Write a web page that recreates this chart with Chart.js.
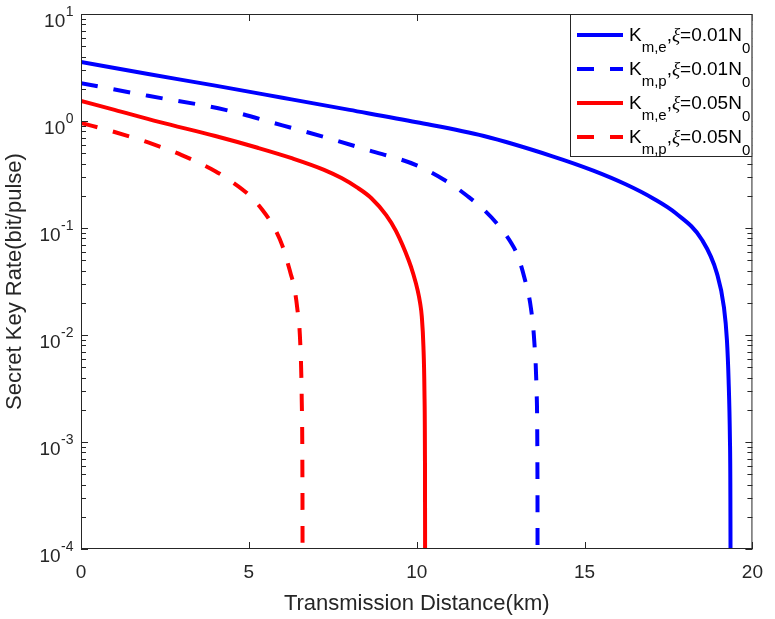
<!DOCTYPE html>
<html>
<head>
    <title>Secret Key Rate vs Transmission Distance</title>
    <script src="https://cdn.jsdelivr.net/npm/chart.js"></script>
    <style>
        body { margin: 0; background: #fff; }
    </style>
</head>
<body>
    <canvas id="keyRateChart" width="775" height="619"></canvas>
    <script>
        // values (distance in km, rate in bit/pulse)
        const distMeXi01 = [0, 2, 4, 6, 8, 10, 12, 14, 15.26, 16.24, 17.03, 17.71, 18.5, 18.94, 19.15, 19.24, 19.29, 19.33, 19.347, 19.349];
        const rateMeXi01 = [3.56, 2.75, 2.14, 1.65, 1.27, 0.973, 0.724, 0.473, 0.344, 0.255, 0.19, 0.138, 0.0773, 0.0379, 0.0183, 0.009, 0.0038, 0.00105, 0.0001, 0.00001];

        const distMpXi01 = [0, 2, 4.3, 6, 7.24, 8.5, 10, 11, 11.5, 12, 12.5, 12.82, 13, 13.2, 13.4, 13.5, 13.57, 13.595, 13.599, 13.6];
        const rateMpXi01 = [2.26, 1.72, 1.27, 0.91, 0.71, 0.54, 0.385, 0.26, 0.20, 0.148, 0.10, 0.072, 0.056, 0.035, 0.018, 0.0089, 0.003, 0.0006, 0.0001, 0.00001];

        const distMeXi05 = [0, 1, 2.32, 4, 5.26, 6.3, 7.24, 7.76, 8.21, 8.65, 9.09, 9.38, 9.76, 9.9, 10.03, 10.1, 10.15, 10.2, 10.23, 10.245, 10.249, 10.2505];
        const rateMeXi05 = [1.54, 1.27, 0.98, 0.724, 0.562, 0.447, 0.35, 0.293, 0.241, 0.19, 0.132, 0.094, 0.05, 0.037, 0.026, 0.02, 0.015, 0.0078, 0.003, 0.00075, 0.00015, 0.00001];

        const distMpXi05 = [0, 1, 2, 3, 4, 4.5, 5, 5.4, 5.76, 6.0, 6.24, 6.35, 6.44, 6.53, 6.575, 6.595, 6.599, 6.6];
        const rateMpXi05 = [0.96, 0.79, 0.63, 0.48, 0.34, 0.27, 0.204, 0.148, 0.1, 0.068, 0.038, 0.028, 0.018, 0.0085, 0.0025, 0.0005, 0.0001, 0.00001];

        const seriesSub = ['m,e', 'm,p', 'm,e', 'm,p'];
        const seriesXi = ['0.01', '0.01', '0.05', '0.05'];
        const xTicks = [0, 5, 10, 15, 20];
        const yDecades = [-4, -3, -2, -1, 0, 1];

        const axisColor = '#262626';
        const font = 'Liberation Sans, Arial, Helvetica, sans-serif';

        function pts(xs, ys) {
            return xs.map((v, i) => ({ x: v, y: ys[i] }));
        }

        function makeSet(i, xs, ys, color, dashed) {
            return {
                label: 'K_' + seriesSub[i] + ',ξ=' + seriesXi[i] + 'N_0',
                data: pts(xs, ys),
                borderColor: color,
                borderWidth: 4,
                borderDash: dashed ? [17, 16] : [],
                pointRadius: 0,
                cubicInterpolationMode: 'monotone',
                fill: false,
                clip: 0
            };
        }

        // draws text pieces [text, fontSpec, dy] starting at x
        function drawRich(ctx, pieces, x, y) {
            for (const [t, f, dy] of pieces) {
                ctx.font = f;
                ctx.fillText(t, x, y + dy);
                x += ctx.measureText(t).width;
            }
            return x;
        }

        const matlabAxes = {
            id: 'matlabAxes',
            afterDatasetsDraw(chart) {
                const { ctx, chartArea: a, scales: { x, y } } = chart;
                ctx.save();
                ctx.strokeStyle = axisColor;
                ctx.lineWidth = 1;
                ctx.setLineDash([]);

                // box
                ctx.strokeRect(a.left + 0.5, a.top + 0.5, a.right - a.left - 1, a.bottom - a.top - 1);

                // x ticks, inward, bottom and top
                ctx.beginPath();
                for (const v of xTicks) {
                    const px = Math.round(x.getPixelForValue(v)) + 0.5;
                    ctx.moveTo(px, a.bottom); ctx.lineTo(px, a.bottom - 7);
                    ctx.moveTo(px, a.top); ctx.lineTo(px, a.top + 7);
                }
                // y ticks, major + minor, left and right
                for (const e of yDecades) {
                    for (let k = 1; k <= 9; k++) {
                        if (e === 1 && k > 1) break;
                        const py = Math.round(y.getPixelForValue(k * Math.pow(10, e))) + 0.5;
                        const len = k === 1 ? 7 : 5;
                        ctx.moveTo(a.left, py); ctx.lineTo(a.left + len, py);
                        ctx.moveTo(a.right, py); ctx.lineTo(a.right - len, py);
                    }
                }
                ctx.stroke();

                // y tick labels 10^n
                ctx.fillStyle = axisColor;
                ctx.textBaseline = 'alphabetic';
                ctx.textAlign = 'left';
                for (const e of yDecades) {
                    const py = y.getPixelForValue(Math.pow(10, e));
                    const sup = String(e);
                    ctx.font = '14px ' + font;
                    const wSup = ctx.measureText(sup).width;
                    ctx.font = '19px ' + font;
                    const wMain = ctx.measureText('10').width;
                    const x0 = 73 - wSup - wMain;
                    ctx.fillText('10', x0, py + 12.5);
                    ctx.font = '14px ' + font;
                    ctx.fillText(sup, x0 + wMain + 0.5, py + 2);
                }

                // legend
                const lx = 570, ly = 14, lw = a.right - 570, lh = 143;
                ctx.fillStyle = '#fff';
                ctx.fillRect(lx, ly, lw, lh);
                ctx.strokeStyle = axisColor;
                ctx.strokeRect(lx + 0.5, ly + 0.5, lw - 1, lh - 1);
                const main = '19px ' + font, sub = '15px ' + font, greek = 'italic 19px "Liberation Serif", serif';
                chart.data.datasets.forEach((ds, i) => {
                    const cy = 35 + i * 34;
                    ctx.strokeStyle = ds.borderColor;
                    ctx.lineWidth = 4;
                    ctx.setLineDash(ds.borderDash);
                    ctx.beginPath();
                    ctx.moveTo(577, cy);
                    ctx.lineTo(623, cy);
                    ctx.stroke();
                    ctx.setLineDash([]);
                    ctx.fillStyle = '#000';
                    drawRich(ctx, [
                        ['K', main, 0], [seriesSub[i], sub, 11], [',', main, 0], ['ξ', greek, 0],
                        ['=' + seriesXi[i] + 'N', main, 0], ['0', sub, 12]
                    ], 629, cy + 6);
                });
                ctx.restore();
            }
        };

        const ctx = document.getElementById('keyRateChart').getContext('2d');
        new Chart(ctx, {
            type: 'line',
            data: {
                datasets: [
                    makeSet(0, distMeXi01, rateMeXi01, '#0000ff', false),
                    makeSet(1, distMpXi01, rateMpXi01, '#0000ff', true),
                    makeSet(2, distMeXi05, rateMeXi05, '#ff0000', false),
                    makeSet(3, distMpXi05, rateMpXi05, '#ff0000', true)
                ]
            },
            options: {
                responsive: false,
                animation: false,
                layout: { padding: { top: 14, right: 15, left: 0, bottom: 0 } },
                plugins: {
                    legend: { display: false },
                    tooltip: { enabled: false }
                },
                scales: {
                    x: {
                        type: 'linear',
                        min: 0,
                        max: 20,
                        afterBuildTicks: s => { s.ticks = xTicks.map(v => ({ value: v })); },
                        afterFit: s => { s.height = 70; },
                        grid: { display: false, drawTicks: false },
                        border: { display: false },
                        ticks: { color: axisColor, padding: 12, font: { size: 19, family: font } },
                        title: {
                            display: true,
                            text: 'Transmission Distance(km)',
                            color: axisColor,
                            padding: { top: 2, bottom: 2 },
                            font: { size: 22, family: font }
                        }
                    },
                    y: {
                        type: 'logarithmic',
                        min: 1e-4,
                        max: 10,
                        afterFit: s => { s.width = 81; },
                        grid: { display: false, drawTicks: false },
                        border: { display: false },
                        ticks: { display: false },
                        title: {
                            display: true,
                            text: 'Secret Key Rate(bit/pulse)',
                            color: axisColor,
                            padding: { top: 2, bottom: 2 },
                            font: { size: 22, family: font }
                        }
                    }
                }
            },
            plugins: [matlabAxes]
        });
    </script>
</body>
</html>
